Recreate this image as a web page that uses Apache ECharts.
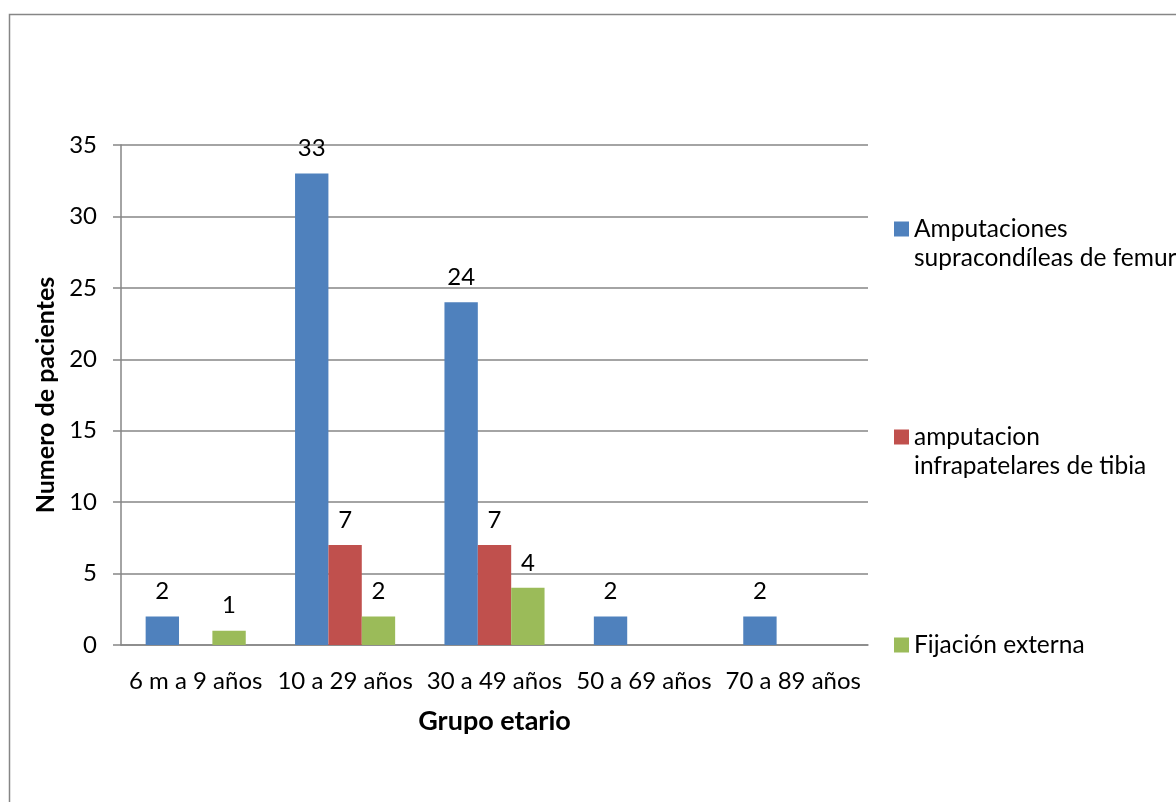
<!DOCTYPE html>
<html>
<head>
<meta charset="utf-8">
<script src="https://cdn.jsdelivr.net/npm/echarts@6/dist/echarts.min.js"></script>
<style>
  html, body { margin: 0; padding: 0; background: #fff; }
  #chart { width: 1176px; height: 802px; }
</style>
</head>
<body>
<div id="chart"></div>
<script>
// Age groups and patient counts per procedure
const categories = ['6 m a 9 años', '10 a 29 años', '30 a 49 años', '50 a 69 años', '70 a 89 años'];
const femurAmputations = [2, 33, 24, 2, 2];
const tibiaAmputations = [null, 7, 7, null, null];
const externalFixation = [1, 2, 4, null, null];
const seriesNames = [
  'Amputaciones\nsupracondíleas de femur',
  'amputacion\ninfrapatelares de tibia',
  'Fijación externa'
];
const colors = ['#4F81BD', '#C0504D', '#9BBB59'];
const yTicks = { min: 0, max: 35, interval: 5 };

const FONT = 'Lato';
const FS = 24;
const LINE_H = 29;
const gray = '#868686';

function barSeries(name, data, color) {
  return {
    name: name,
    type: 'bar',
    data: data,
    barGap: '0%',
    barCategoryGap: '33%',
    itemStyle: { color: color },
    label: {
      show: true,
      position: 'top',
      distance: 13,
      color: '#000',
      fontFamily: FONT,
      fontSize: FS
    }
  };
}

// One legend block per series; a leading blank line keeps the icon level with the first text line
function legendBlock(name, iconCenterY) {
  const lines = name.split('\n').length;
  const pad = lines > 1 ? '\n' : '';
  const blockH = (lines + (lines > 1 ? 1 : 0)) * LINE_H;
  return {
    data: [name],
    orient: 'vertical',
    left: 894,
    top: iconCenterY - blockH / 2,
    itemWidth: 15,
    itemHeight: 15,
    itemGap: 0,
    padding: 0,
    icon: 'rect',
    selectedMode: false,
    formatter: n => pad + n,
    textStyle: {
      fontFamily: FONT,
      fontSize: 24.5,
      color: '#000',
      lineHeight: LINE_H
    }
  };
}

const chart = echarts.init(document.getElementById('chart'), null, { renderer: 'canvas' });
chart.setOption({
  animation: false,
  backgroundColor: '#fff',
  graphic: [{
    type: 'rect',
    left: 7,
    top: 12,
    shape: { x: 0, y: 0, width: 1200, height: 820 },
    style: { fill: 'none', stroke: gray, lineWidth: 1.5 },
    silent: true
  }],
  legend: [
    legendBlock(seriesNames[0], 229),
    legendBlock(seriesNames[1], 437),
    legendBlock(seriesNames[2], 645)
  ],
  grid: { left: 121, top: 145, right: 308, bottom: 157, containLabel: false },
  xAxis: {
    type: 'category',
    data: categories,
    axisLine: { lineStyle: { color: gray, width: 1.5 } },
    axisTick: { show: false },
    axisLabel: { color: '#000', fontFamily: FONT, fontSize: FS, margin: 24, interval: 0 },
    name: 'Grupo etario',
    nameLocation: 'middle',
    nameGap: 63,
    nameTextStyle: { color: '#000', fontFamily: FONT, fontSize: 27, fontWeight: 'bold' }
  },
  yAxis: {
    type: 'value',
    min: yTicks.min,
    max: yTicks.max,
    interval: yTicks.interval,
    axisLine: { show: true, lineStyle: { color: gray, width: 1.5 } },
    axisTick: { show: true, length: 8, lineStyle: { color: gray, width: 1.5 } },
    splitLine: { lineStyle: { color: gray, width: 1.5 } },
    axisLabel: { color: '#000', fontFamily: FONT, fontSize: FS, margin: 24 },
    name: 'Numero de pacientes',
    nameLocation: 'middle',
    nameGap: 60,
    nameTextStyle: { color: '#000', fontFamily: FONT, fontSize: 25, fontWeight: 'bold' }
  },
  series: [
    barSeries(seriesNames[0], femurAmputations, colors[0]),
    barSeries(seriesNames[1], tibiaAmputations, colors[1]),
    barSeries(seriesNames[2], externalFixation, colors[2])
  ]
});
</script>
</body>
</html>
